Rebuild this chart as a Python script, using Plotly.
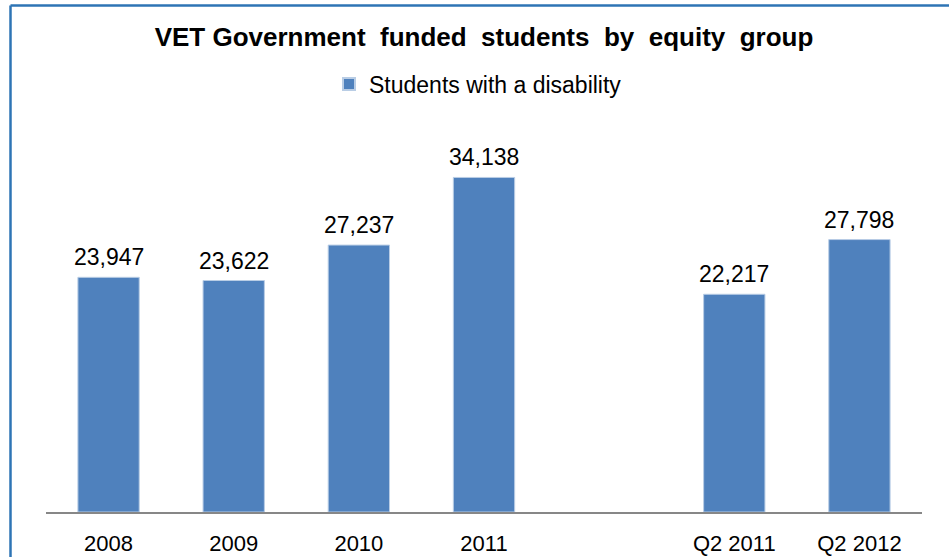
import plotly.graph_objects as go

# VET government funded students with a disability, annual and Q2 figures
categories = ["2008", "2009", "2010", "2011", " ", "Q2 2011", "Q2 2012"]
students_with_disability = [23947, 23622, 27237, 34138, None, 22217, 27798]
series_name = "Students with a disability"
title_text = "VET Government  funded  students  by  equity  group"

bar_color = "#4F81BD"
frame_color = "#2E74B5"
font_family = "Liberation Sans, Arial, sans-serif"

fig = go.Figure()
fig.add_trace(go.Bar(
    x=categories,
    y=students_with_disability,
    name=series_name,
    marker=dict(color=bar_color, line=dict(color="#B9CDE5", width=1)),
    width=0.49,
    cliponaxis=False,
    showlegend=True,
))

# value labels sitting just above each bar (category index on the x axis)
for idx, val in enumerate(students_with_disability):
    if val is None:
        continue
    fig.add_annotation(
        x=idx, y=val, xref="x", yref="y",
        text=f"{val:,}", showarrow=False,
        yanchor="bottom", yshift=5,
        font=dict(size=23, color="#000000", family=font_family),
    )

fig.update_layout(
    width=949,
    height=557,
    margin=dict(l=46, r=27, t=120, b=45, autoexpand=False),
    paper_bgcolor="white",
    plot_bgcolor="white",
    font=dict(family=font_family, color="#000000"),
    title=dict(
        text=f"<b>{title_text}</b>",
        x=(484 / 949), xanchor="center",
        y=1 - 37 / 557, yanchor="middle",
        font=dict(size=26, family=font_family, color="#000000"),
    ),
    legend=dict(
        orientation="h",
        x=(478 - 46) / 876, xanchor="center",
        y=1 + (120 - 84) / 392, yanchor="middle",
        font=dict(size=23, family=font_family),
        itemsizing="constant",
        bgcolor="rgba(0,0,0,0)",
    ),
    xaxis=dict(
        type="category",
        categoryorder="array",
        categoryarray=categories,
        range=[-0.5, len(categories) - 0.5],
        showline=True,
        linecolor="#878787",
        linewidth=2,
        ticks="",
        showgrid=False,
        tickfont=dict(size=22, family=font_family),
        ticklabelstandoff=11,
        automargin=False,
        fixedrange=True,
    ),
    yaxis=dict(
        range=[0, 40000],
        visible=False,
        showgrid=False,
        zeroline=False,
        automargin=False,
        fixedrange=True,
    ),
    bargap=0.51,
    shapes=[
        # chart frame: top and left edges
        dict(type="line", xref="paper", yref="paper",
             x0=(10.5 - 46) / 876, x1=1.2, y0=1 + (120 - 5.5) / 392, y1=1 + (120 - 5.5) / 392,
             line=dict(color=frame_color, width=2.5)),
        dict(type="line", xref="paper", yref="paper",
             x0=(10.5 - 46) / 876, x1=(10.5 - 46) / 876, y0=-0.5, y1=1 + (120 - 5.5) / 392,
             line=dict(color=frame_color, width=2.5)),
    ],
)

fig.write_html("out.html")
